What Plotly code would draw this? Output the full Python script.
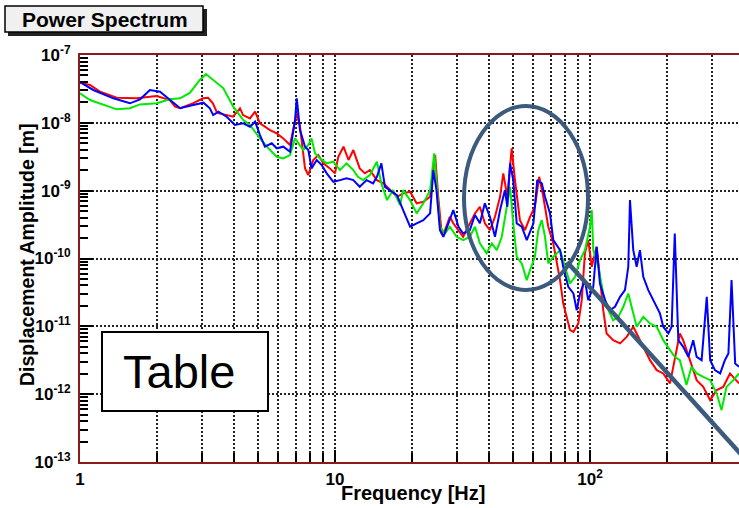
import math
import plotly.graph_objects as go

# ---------------- data ----------------
red_f = [1.0, 1.094, 1.198, 1.393, 1.668, 2.0, 2.25, 2.36, 2.47, 2.77, 3.04, 3.18, 3.32, 3.45, 3.77, 3.98, 4.24, 4.36, 4.64, 4.86, 5.08,
         5.56, 5.91, 6.27, 6.66, 6.86, 7.08, 7.29, 7.63, 7.86, 8.22, 8.60, 9.0, 9.55, 10.0, 10.3, 10.8, 11.3, 11.8, 12.5, 13.1, 13.7,
         14.6, 15.5, 16.4, 17.5, 18.5, 19.7, 20.9, 22.2, 23.6, 24.7, 25.4, 26.2, 27.0, 28.2, 29.1, 30.5, 31.8, 33.8, 35.4, 37.0,
         38.7, 40.5, 42.4, 44.4, 45.7, 47.4, 49.3, 50.8, 53.1, 55.6, 58.2, 60.8, 63.2, 65.6, 68.6, 71.8, 76.3, 78.5, 83.5, 86.1,
         90.0, 92.8, 95.5, 98.4, 101.6, 106.2, 109.4, 112.7, 116.2, 123.3, 131.2, 139.3, 147.8, 161.8, 171.9, 182.6, 193.8, 206,
         215, 225, 232, 247, 262, 278, 296, 314, 333, 354, 384]
red_a = [3.90e-8, 3.61e-8, 2.88e-8, 2.34e-8, 2.30e-8, 2.48e-8, 2.17e-8, 1.73e-8, 1.64e-8, 1.94e-8, 2.30e-8, 2.34e-8, 1.94e-8,
         1.40e-8, 1.30e-8, 1.23e-8, 1.64e-8, 1.30e-8, 1.16e-8, 1.46e-8, 9.84e-9, 7.83e-9, 7.0e-9, 5.90e-9, 4.71e-9, 7.83e-9,
         1.38e-8, 8.75e-9, 2.13e-9, 1.70e-9, 2.83e-9, 3.35e-9, 2.53e-9, 2.13e-9, 1.80e-9, 3.16e-9, 4.45e-9, 2.83e-9, 3.97e-9,
         2.13e-9, 1.80e-9, 2.01e-9, 1.43e-9, 1.28e-9, 1.02e-9, 8.13e-10, 9.12e-10, 9.64e-10, 6.5e-10, 6.86e-10, 8.13e-10,
         3.35e-9, 8.13e-10, 2.34e-10, 2.62e-10, 4.12e-10, 3.30e-10, 2.62e-10, 2.09e-10, 3.30e-10, 4.62e-10, 5.79e-10, 3.30e-10,
         2.62e-10, 4.12e-10, 8.13e-10, 1.80e-9, 8.13e-10, 4.21e-9, 1.43e-9, 3.68e-10, 2.62e-10, 4.12e-10, 5.79e-10, 1.60e-9,
         8.13e-10, 2.94e-10, 1.67e-10, 4.80e-11, 2.18e-11, 8.79e-12, 8.30e-12, 1.10e-11, 2.43e-11, 1.19e-10, 1.87e-10, 7.55e-11,
         1.49e-10, 5.37e-11, 1.73e-11, 7.85e-12, 6.25e-12, 5.60e-12, 7.0e-12, 9.84e-12, 4.99e-12, 3.17e-12, 2.26e-12, 2.02e-12,
         1.44e-12, 3.17e-12, 7.85e-12, 6.25e-12, 3.17e-12, 1.61e-12, 1.28e-12, 8.16e-13, 1.15e-12, 1.28e-12, 2.02e-12, 1.44e-12]

green_f = [1.0, 1.094, 1.393, 1.57, 1.72, 2.0, 2.25, 2.47, 2.70, 2.95, 3.12, 3.33, 3.65, 3.99, 4.37, 4.64, 5.08,
           5.56, 5.91, 6.27, 6.66, 6.97, 7.18, 7.51, 7.86, 8.09, 8.35, 8.73, 9.28, 9.85, 10.46, 11.1, 11.8, 12.3, 12.9, 13.7,
           14.6, 15.2, 16.0, 16.9, 18.0, 18.5, 19.7, 20.9, 22.2, 23.6,
           24.5, 25.0, 25.8, 27.0, 28.2, 30.0, 31.8, 33.8, 35.4, 37.0, 39.3, 41.2, 43.1, 45.1, 47.1, 48.6, 50.0, 51.6, 54.0,
           56.5, 58.2, 60.8, 62.7, 64.7, 66.6, 68.6, 71.8, 76.3,
           79.8, 83.5, 87.4, 91.4, 95.5, 100, 101.6, 103, 107.8, 112.7, 118, 123.3, 129.1, 135.1, 141.3, 145.5, 152.4, 161.8,
           171.9, 182.6, 193.8, 206, 215, 225, 239, 250, 262, 278, 296, 314, 328, 343, 365, 384]
green_a = [2.72e-8, 2.17e-8, 1.58e-8, 1.64e-8, 1.87e-8, 1.94e-8, 2.22e-8, 2.30e-8, 2.78e-8, 4.28e-8, 5.25e-8, 4.28e-8,
           3.23e-8, 1.73e-8, 1.10e-8, 9.29e-9, 5.90e-9,
           3.97e-9, 3.16e-9, 2.99e-9, 3.35e-9, 5.90e-9, 4.99e-9, 3.97e-9, 4.71e-9, 5.90e-9, 3.55e-9, 2.99e-9, 2.53e-9,
           2.67e-9, 2.01e-9, 2.53e-9, 2.01e-9, 1.60e-9, 1.43e-9, 1.70e-9, 2.67e-9, 1.28e-9, 7.27e-10, 1.02e-9, 6.13e-10,
           1.02e-9, 7.27e-10, 4.62e-10, 6.5e-10, 1.02e-9,
           3.55e-9, 1.43e-9, 2.94e-10, 2.34e-10, 2.94e-10, 2.09e-10, 1.87e-10, 2.09e-10, 2.94e-10, 1.67e-10, 1.19e-10,
           1.67e-10, 1.33e-10, 2.09e-10, 5.79e-10, 1.14e-9, 3.30e-10, 1.06e-10, 8.47e-11, 4.80e-11, 6.75e-11, 1.06e-10,
           2.62e-10, 3.68e-10, 2.09e-10, 8.47e-11, 1.06e-10, 1.33e-10,
           7.55e-11, 4.30e-11, 5.37e-11, 9.46e-11, 1.33e-10, 2.94e-10, 5.18e-10, 1.33e-10, 7.55e-11, 3.05e-11, 1.73e-11,
           1.23e-11, 1.38e-11, 1.94e-11, 3.05e-11, 1.94e-11, 9.84e-12, 1.38e-11, 1.10e-11, 9.84e-12, 6.25e-12, 4.46e-12,
           3.55e-12, 3.17e-12, 1.36e-12, 2.53e-12, 2.02e-12, 1.80e-12, 1.61e-12, 1.02e-12, 5.81e-13, 1.28e-12, 1.61e-12, 2.02e-12]

blue_f = [1.0, 1.128, 1.351, 1.57, 1.72, 1.88, 2.06, 2.25, 2.47, 2.78, 3.05, 3.23, 3.33, 3.49, 3.76, 4.05, 4.37, 4.64, 4.86, 5.08,
          5.31, 5.65, 5.91, 6.27, 6.66, 6.97, 7.08, 7.29, 7.63, 7.86, 8.09, 8.48, 8.87, 9.28, 9.85, 10.46, 11.1, 11.8, 12.5,
          13.3, 14.1, 14.6, 15.2, 15.7, 16.4, 17.5, 18.5, 19.7, 20.9, 22.2, 23.6,
          24.3, 25.0, 25.8, 26.6, 27.8, 29.1, 30.5, 31.8, 33.8, 35.4, 37.0, 38.7, 40.5, 42.4, 44.4, 46.4, 47.4, 48.6, 50.0,
          51.6, 54.0, 56.5, 60.0, 62.1, 64.7, 66.6, 69.7, 71.8,
          76.3, 78.5, 82.2, 86.1, 88.7, 91.4, 95.5, 98.4, 103.0, 106.2, 109.4, 114.5, 119.7, 125.3, 131.2, 137.1, 141.3,
          143.5, 147.8, 152.4, 157, 161.8, 169.3, 177, 188, 193.8, 203, 209, 215, 222, 232, 243, 254, 262, 274, 287, 296,
          309, 324, 338, 349, 359, 371, 384]
blue_a = [4.0e-8, 3.05e-8, 2.30e-8, 1.94e-8, 2.22e-8, 3.05e-8, 2.88e-8, 2.17e-8, 1.64e-8, 1.83e-8, 1.98e-8, 1.64e-8,
          1.30e-8, 1.46e-8, 1.23e-8, 9.29e-9, 9.84e-9, 8.75e-9, 1.04e-8, 6.61e-9,
          4.45e-9, 4.99e-9, 4.21e-9, 4.45e-9, 3.75e-9, 1.10e-8, 2.30e-8, 7.83e-9, 4.45e-9, 3.97e-9, 2.13e-9, 2.83e-9,
          2.39e-9, 1.80e-9, 1.35e-9, 1.43e-9, 1.52e-9, 1.43e-9, 1.14e-9, 1.43e-9, 1.28e-9, 1.60e-9, 2.53e-9, 1.14e-9,
          1.02e-9, 8.61e-10, 5.18e-10, 2.94e-10, 3.30e-10, 3.68e-10, 4.62e-10,
          2.01e-9, 1.02e-9, 2.62e-10, 2.09e-10, 3.30e-10, 5.18e-10, 2.94e-10, 2.34e-10, 2.62e-10, 4.37e-10, 3.30e-10,
          6.5e-10, 4.12e-10, 2.09e-10, 5.18e-10, 1.02e-9, 5.79e-10, 2.53e-9, 1.43e-9, 3.30e-10, 2.94e-10, 1.87e-10,
          3.30e-10, 1.43e-9, 1.28e-9, 8.13e-10, 4.62e-10, 1.87e-10,
          1.33e-10, 7.55e-11, 3.83e-11, 3.05e-11, 1.73e-11, 3.05e-11, 4.80e-11, 2.43e-11, 3.83e-11, 1.49e-10, 4.30e-11,
          2.43e-11, 1.73e-11, 1.94e-11, 2.72e-11, 3.42e-11, 7.55e-11, 7.27e-10, 1.33e-10, 7.55e-11, 1.33e-10, 5.37e-11,
          3.42e-11, 2.43e-11, 1.55e-11, 9.84e-12, 7.85e-12, 9.84e-12, 2.34e-10, 6.25e-12, 4.99e-12, 3.55e-12, 6.25e-12,
          3.55e-12, 3.17e-12, 2.72e-11, 3.17e-12, 2.26e-12, 2.02e-12, 3.17e-12, 3.98e-12, 4.80e-11, 2.84e-12, 2.53e-12]

x_tickvals = [1, 10, 100]
x_ticktext = ["<b>1</b>", "<b>10</b>", "<b>10<sup>2</sup></b>"]
y_tickvals = [1e-13, 1e-12, 1e-11, 1e-10, 1e-9, 1e-8, 1e-7]
y_ticktext = ["<b>10<sup>-13</sup></b>", "<b>10<sup>-12</sup></b>", "<b>10<sup>-11</sup></b>", "<b>10<sup>-10</sup></b>",
              "<b>10<sup>-9</sup></b>", "<b>10<sup>-8</sup></b>", "<b>10<sup>-7</sup></b>"]

# ---------------- layout helpers ----------------
W, H = 739, 508
ML, MR, MT, MB = 80, 0, 55, 46
PW, PH = W - ML - MR, H - MT - MB
FONT = "Liberation Sans, Arial, Helvetica, sans-serif"
AXC = "#8b1a1a"
GRID = "#222222"


def px(x):
    return (x - ML) / PW


def py(y):
    return (H - MB - y) / PH


fig = go.Figure()
for f, a, c in [(red_f, red_a, "#ff0000"), (green_f, green_a, "#00ea00"), (blue_f, blue_a, "#0000ff")]:
    fig.add_trace(go.Scatter(x=f, y=a, mode="lines", line=dict(color=c, width=2), showlegend=False,
                             hoverinfo="skip"))

fig.update_layout(
    width=W, height=H, margin=dict(l=ML, r=MR, t=MT, b=MB),
    paper_bgcolor="white", plot_bgcolor="white",
    font=dict(family=FONT, color="black"),
    xaxis=dict(type="log", range=[0, math.log10(384)], tickvals=x_tickvals, ticktext=x_ticktext,
               ticks="inside", ticklen=12, tickwidth=2, tickcolor="black",
               showgrid=True, gridcolor=GRID, gridwidth=1.5, griddash="2px,2px",
               minor=dict(dtick="D1", ticks="inside", ticklen=9, tickwidth=1.5, tickcolor="black",
                          showgrid=True, gridcolor=GRID, gridwidth=1.5, griddash="2px,2px"),
               showline=True, linecolor=AXC, linewidth=2, mirror=True, zeroline=False,
               tickfont=dict(size=17, family=FONT, color="black"), ticklabelstandoff=1),
    yaxis=dict(type="log", range=[-13, -7], tickvals=y_tickvals, ticktext=y_ticktext,
               ticks="inside", ticklen=13, tickwidth=2, tickcolor="black",
               showgrid=True, gridcolor=GRID, gridwidth=1.5, griddash="2px,2px",
               minor=dict(dtick="D1", ticks="inside", ticklen=8, tickwidth=1.5, tickcolor="black", showgrid=False),
               showline=True, linecolor=AXC, linewidth=2, zeroline=False,
               tickfont=dict(size=17, family=FONT, color="black"), ticklabelstandoff=4),
)

shapes = []
annotations = []
# title box with shadow
shapes.append(dict(type="rect", xref="paper", yref="paper", x0=px(8), x1=px(207), y0=py(36), y1=py(9),
                   fillcolor="#222222", line=dict(width=0), layer="above"))
shapes.append(dict(type="rect", xref="paper", yref="paper", x0=px(5), x1=px(203), y0=py(32), y1=py(6),
                   fillcolor="#f0f0f0", line=dict(color="black", width=1.5), layer="above"))
annotations.append(dict(text="<b>Power Spectrum</b>", xref="paper", yref="paper", x=px(105), y=py(19.5),
                        showarrow=False, font=dict(size=21, family=FONT, color="black"),
                        xanchor="center", yanchor="middle"))
# axis titles
annotations.append(dict(text="<b>Frequency [Hz]</b>", xref="paper", yref="paper", x=px(413), y=py(493),
                        showarrow=False, font=dict(size=20, family=FONT, color="black"),
                        xanchor="center", yanchor="middle"))
annotations.append(dict(text="<b>Displacement Amplitude [m]</b>", xref="paper", yref="paper", x=px(27), y=py(255),
                        showarrow=False, textangle=-90, font=dict(size=19.5, family=FONT, color="black"),
                        xanchor="center", yanchor="middle"))
# overlays: ellipse + pointer line + Table box
ELC = "#3b5a7d"
shapes.append(dict(type="circle", xref="paper", yref="paper", x0=px(464), x1=px(588), y0=py(290), y1=py(106),
                   line=dict(color=ELC, width=4), layer="above"))
shapes.append(dict(type="line", xref="paper", yref="paper", x0=px(567), y0=py(262), x1=px(748), y1=py(462),
                   line=dict(color=ELC, width=4.5), layer="above"))
shapes.append(dict(type="rect", xref="paper", yref="paper", x0=px(102), x1=px(268), y0=py(411), y1=py(332),
                   fillcolor="white", line=dict(color="black", width=2), layer="above"))
annotations.append(dict(text="Table", xref="paper", yref="paper", x=px(179), y=py(371),
                        showarrow=False, font=dict(size=47, family=FONT, color="black"),
                        xanchor="center", yanchor="middle"))

fig.update_layout(shapes=shapes, annotations=annotations)
fig.write_html("out.html")
